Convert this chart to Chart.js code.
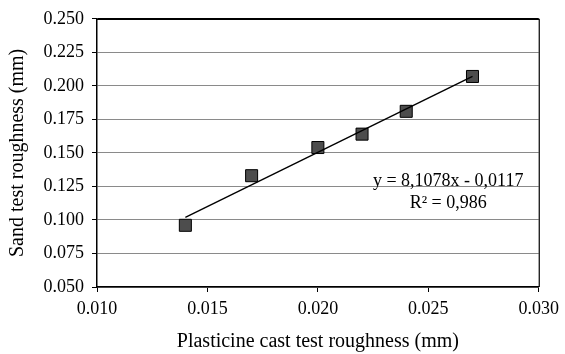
<!DOCTYPE html>
<html>
<head>
<meta charset="utf-8">
<script src="https://cdn.jsdelivr.net/npm/chart.js@4"></script>
<style>
  body { margin: 0; background: #fff; }
  #wrap { width: 565px; height: 354px; }
</style>
</head>
<body>
<div id="wrap"><canvas id="scatter"></canvas></div>
<script>
// measured points
const plasticine = [0.014, 0.017, 0.020, 0.022, 0.024, 0.027];
const sand = [0.096, 0.133, 0.154, 0.164, 0.181, 0.207];
// trend line ends
const trendX = [0.014, 0.027];
const trendY = [0.102, 0.207];
const equation = ['y = 8,1078x - 0,0117', 'R\u00b2 = 0,986'];

const serif = "'Liberation Serif', 'Times New Roman', serif";

const boxAndLabel = {
  id: 'boxAndLabel',
  afterDraw(chart) {
    const { ctx, chartArea: a, scales } = chart;
    ctx.save();
    ctx.strokeStyle = '#000';
    ctx.lineWidth = 1.2;
    ctx.beginPath();
    ctx.moveTo(a.left, a.top + 0.5);
    ctx.lineTo(a.right + 0.5, a.top + 0.5);
    ctx.lineTo(a.right + 0.5, a.bottom);
    ctx.stroke();
    ctx.fillStyle = '#000';
    ctx.font = '18px ' + serif;
    ctx.textAlign = 'center';
    ctx.textBaseline = 'middle';
    const cx = scales.x.getPixelForValue(0.0259);
    ctx.fillText(equation[0], cx, scales.y.getPixelForValue(0.129));
    ctx.fillText(equation[1], cx, scales.y.getPixelForValue(0.1125));
    ctx.restore();
  }
};

const ctx = document.getElementById('scatter').getContext('2d');
const chart = new Chart(ctx, {
  type: 'scatter',
  data: {
    datasets: [{
      label: 'trend',
      type: 'line',
      data: trendX.map((x, i) => ({ x: x, y: trendY[i] })),
      borderColor: '#000',
      borderWidth: 1.4,
      pointRadius: 0,
      fill: false
    }, {
      label: 'points',
      data: plasticine.map((x, i) => ({ x: x, y: sand[i] })),
      pointStyle: 'rect',
      pointRadius: 8.5,
      backgroundColor: '#4d4d4d',
      borderColor: '#000',
      borderWidth: 1
    }]
  },
  options: {
    responsive: true,
    maintainAspectRatio: false,
    animation: false,
    layout: { padding: { left: 0, top: 16, right: 23, bottom: 0 } },
    plugins: { legend: { display: false }, tooltip: { enabled: false } },
    scales: {
      x: {
        type: 'linear',
        min: 0.010,
        max: 0.030,
        afterFit: s => { s.height = 67; },
        ticks: {
          stepSize: 0.005,
          color: '#000',
          padding: 6,
          font: { family: serif, size: 18 },
          callback: v => v.toFixed(3)
        },
        grid: {
          color: c => (c.index === 4 ? '#000' : 'rgba(0,0,0,0)'),
          tickColor: '#000',
          tickLength: 5,
          drawOnChartArea: false
        },
        border: { color: '#000', width: 1.5 },
        title: {
          display: true,
          text: 'Plasticine cast test roughness (mm)',
          color: '#000',
          font: { family: serif, size: 20 },
          padding: { top: 8, bottom: 0 }
        }
      },
      y: {
        min: 0.050,
        max: 0.250,
        afterFit: s => { s.width = 97; },
        ticks: {
          stepSize: 0.025,
          color: '#000',
          padding: 8,
          font: { family: serif, size: 18 },
          callback: v => v.toFixed(3)
        },
        grid: {
          color: c => (c.index === 8 ? '#000' : '#8a8a8a'),
          tickColor: '#000',
          tickLength: 5
        },
        border: { color: '#000', width: 1.5 },
        title: {
          display: true,
          text: 'Sand test roughness (mm)',
          color: '#000',
          font: { family: serif, size: 20 },
          padding: { top: 6, bottom: 0 }
        }
      }
    }
  },
  plugins: [boxAndLabel]
});
</script>
</body>
</html>
